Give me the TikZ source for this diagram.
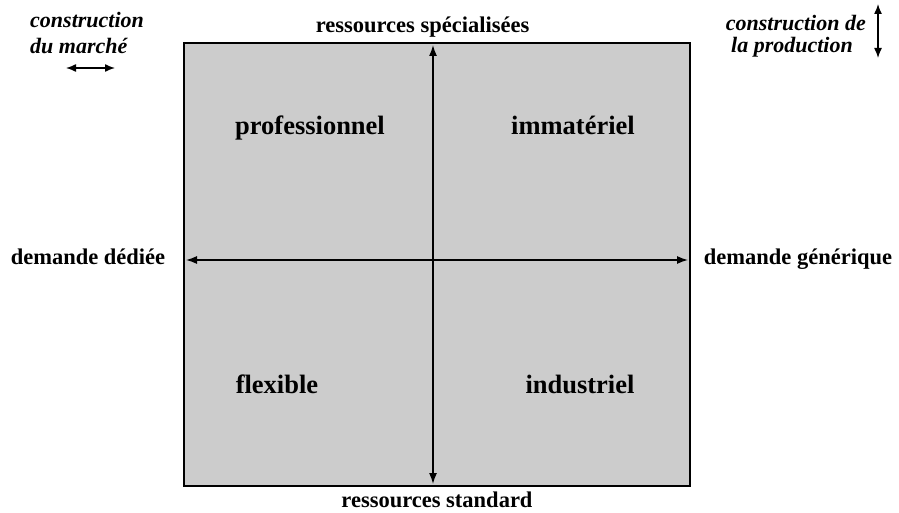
\documentclass[tikz,border=0pt]{standalone}
\usepackage{fontspec}
\setmainfont{Liberation Serif}
\usetikzlibrary{arrows.meta}
\definecolor{boxgray}{RGB}{204,204,204}
\tikzset{
  axislabel/.style={font=\fontsize{22.5}{24}\selectfont\bfseries, inner sep=0pt, anchor=base},
  quadlabel/.style={font=\fontsize{26.5}{28}\selectfont\bfseries, inner sep=0pt, anchor=base},
  notelabel/.style={font=\fontsize{22}{24}\selectfont\bfseries\itshape, inner sep=0pt},
  axisarrow/.style={line width=1.4pt, {Latex[length=11pt,width=8pt]}-{Latex[length=11pt,width=8pt]}},
  smallarrow/.style={line width=1.4pt, {Latex[length=10pt,width=8pt]}-{Latex[length=10pt,width=8pt]}},
}
\begin{document}
\begin{tikzpicture}[x=1pt,y=-1pt]
\useasboundingbox (0,0) rectangle (899,513);
\node[draw=black, line width=1.2pt, fill=boxgray, minimum width=506pt, minimum height=443pt, inner sep=0pt] (box) at (437,264.5) {};
\coordinate (top) at (433,45);
\coordinate (bot) at (433,484);
\coordinate (lft) at (186,260);
\coordinate (rgt) at (688,260);
\draw[axisarrow] (top) -- (bot);
\draw[axisarrow] (lft) -- (rgt);
\node[axislabel] (spec) at (422.5,33) {ressources spécialisées};
\node[axislabel] (std) at (437,507) {ressources standard};
\node[axislabel] (ded) at (88,264) {demande dédiée};
\node[axislabel] (gen) at (798,264) {demande générique};
\node[quadlabel] (pro) at (310,135) {professionnel};
\node[quadlabel] (imm) at (573,135) {immatériel};
\node[quadlabel] (flex) at (277,393) {flexible};
\node[quadlabel] (ind) at (580,393) {industriel};
\node[notelabel, anchor=base west] (cm1) at (30,27.5) {construction};
\node[notelabel, anchor=base west] (cm2) at (30,54) {du marché};
\node[notelabel, anchor=base east] (cp1) at (866,31) {construction de};
\node[notelabel, anchor=base east] (cp2) at (853,53) {la production};
\coordinate (ha) at (66,68);
\coordinate (hb) at (115,68);
\draw[smallarrow] (ha) -- (hb);
\coordinate (va) at (878,4);
\coordinate (vb) at (878,58);
\draw[smallarrow] (va) -- (vb);
\end{tikzpicture}
\end{document}
